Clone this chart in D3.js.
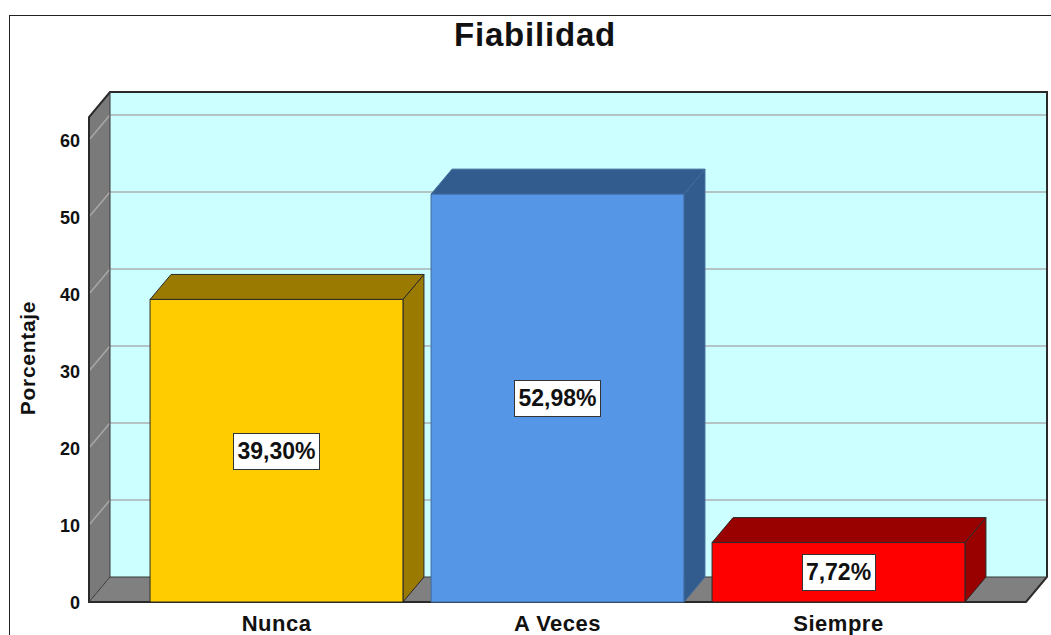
<!DOCTYPE html>
<html>
<head>
<meta charset="utf-8">
<script src="https://cdn.jsdelivr.net/npm/d3@7"></script>
<style>
  body { margin: 0; background: #fff; }
  text { font-family: "Liberation Sans", Arial, sans-serif; font-weight: bold; }
</style>
</head>
<body>
<div id="chart"></div>
<script>
var categories = ["Nunca", "A Veces", "Siempre"];
var values = [39.30, 52.98, 7.72];
var valueLabels = ["39,30%", "52,98%", "7,72%"];
var yTicks = [0, 10, 20, 30, 40, 50, 60];

var frontColors = ["#ffcc00", "#5596e6", "#ff0000"];
var darkColors = ["#9a7a00", "#335c8e", "#990000"];
var edgeColors = ["#2a2a2a", "#3f6a9c", "#2a2a2a"];

var W = 1051, H = 635;
var dx = 21, dy = 25;
var x0 = 89, x1 = 1026;       // front edge of floor
var yBottom = 602, yTop = 117;

var svg = d3.select("#chart").append("svg")
    .attr("width", W).attr("height", H);

// outer frame
svg.append("rect")
    .attr("x", 9.5).attr("y", 15.5)
    .attr("width", 1060).attr("height", 640)
    .attr("fill", "none").attr("stroke", "#222").attr("stroke-width", 1);

var yScale = d3.scaleLinear().domain([0, 63]).range([yBottom, yTop]);
var xScale = d3.scaleBand().domain(categories).range([136, 979])
    .paddingInner(0.1).paddingOuter(0.05);

// back wall
svg.append("rect")
    .attr("x", x0 + dx).attr("y", yTop - dy)
    .attr("width", x1 - x0).attr("height", yBottom - yTop)
    .attr("fill", "#ccffff");

// left side wall
svg.append("polygon")
    .attr("points", [[x0, yTop], [x0 + dx, yTop - dy], [x0 + dx, yBottom - dy], [x0, yBottom]].join(" "))
    .attr("fill", "#7a7a7a");

// floor
svg.append("polygon")
    .attr("points", [[x0, yBottom], [x0 + dx, yBottom - dy], [x1 + dx, yBottom - dy], [x1, yBottom]].join(" "))
    .attr("fill", "#808080");

// gridlines on back wall and side wall
var grid = svg.append("g");
yTicks.filter(function(t) { return t > 0; }).forEach(function(t) {
    var y = yScale(t);
    grid.append("line")
        .attr("x1", x0 + dx).attr("x2", x1 + dx)
        .attr("y1", y - dy).attr("y2", y - dy)
        .attr("stroke", "#b4c4c4").attr("stroke-width", 2);
    grid.append("line")
        .attr("x1", x0).attr("x2", x0 + dx)
        .attr("y1", y).attr("y2", y - dy)
        .attr("stroke", "#a8a8a8").attr("stroke-width", 1.5);
});

// wall outlines
svg.append("path")
    .attr("d", "M" + x0 + "," + yBottom + "L" + x0 + "," + yTop + "L" + (x0 + dx) + "," + (yTop - dy) +
        "L" + (x1 + dx) + "," + (yTop - dy) + "L" + (x1 + dx) + "," + (yBottom - dy) +
        "L" + x1 + "," + yBottom + "Z")
    .attr("fill", "none").attr("stroke", "#2a2a2a").attr("stroke-width", 2);
svg.append("path")
    .attr("d", "M" + (x0 + dx) + "," + (yTop - dy) + "L" + (x0 + dx) + "," + (yBottom - dy) +
        "L" + (x1 + dx) + "," + (yBottom - dy) + "M" + (x0 + dx) + "," + (yBottom - dy) + "L" + x0 + "," + yBottom)
    .attr("fill", "none").attr("stroke", "#3a3a3a").attr("stroke-width", 1);

// bars
var bars = svg.append("g");
categories.forEach(function(c, i) {
    var x = xScale(c), bw = xScale.bandwidth();
    var yt = yScale(values[i]), yb = yScale(0);
    var g = bars.append("g")
        .attr("stroke", edgeColors[i]).attr("stroke-width", 1).attr("stroke-linejoin", "round");
    g.append("polygon")
        .attr("points", [[x + bw, yt], [x + bw + dx, yt - dy], [x + bw + dx, yb - dy], [x + bw, yb]].join(" "))
        .attr("fill", darkColors[i]);
    g.append("polygon")
        .attr("points", [[x, yt], [x + dx, yt - dy], [x + bw + dx, yt - dy], [x + bw, yt]].join(" "))
        .attr("fill", darkColors[i]);
    g.append("rect")
        .attr("x", x).attr("y", yt).attr("width", bw).attr("height", yb - yt)
        .attr("fill", frontColors[i]);

    // value label box
    var cx = x + bw / 2, cy = (yt + yb) / 2;
    var lbl = bars.append("g");
    var txt = lbl.append("text")
        .attr("x", cx).attr("y", cy + 8)
        .attr("text-anchor", "middle")
        .style("font-size", "23px").attr("fill", "#111")
        .text(valueLabels[i]);
    var bb = txt.node().getBBox();
    lbl.insert("rect", "text")
        .attr("x", Math.round(bb.x - 4) + 0.5).attr("y", Math.round(cy - 18) + 0.5)
        .attr("width", Math.round(bb.width + 8)).attr("height", 36)
        .attr("fill", "#fff").attr("stroke", "#333").attr("stroke-width", 1);
});

// y tick labels
yTicks.forEach(function(t) {
    svg.append("text")
        .attr("x", 80).attr("y", yScale(t) + 7)
        .attr("text-anchor", "end")
        .style("font-size", "18px").attr("fill", "#111")
        .text(t);
});

// category labels
categories.forEach(function(c) {
    svg.append("text")
        .attr("x", xScale(c) + xScale.bandwidth() / 2).attr("y", 631)
        .attr("text-anchor", "middle")
        .style("font-size", "22px").style("letter-spacing", "0.5px").attr("fill", "#111")
        .text(c);
});

// axis title
svg.append("text")
    .attr("transform", "translate(35,358) rotate(-90)")
    .attr("text-anchor", "middle")
    .style("font-size", "21px").style("letter-spacing", "0.7px").attr("fill", "#111")
    .text("Porcentaje");

// chart title
svg.append("text")
    .attr("x", 535).attr("y", 46)
    .attr("text-anchor", "middle")
    .style("font-size", "33px").style("letter-spacing", "0.8px").attr("fill", "#111")
    .text("Fiabilidad");
</script>
</body>
</html>
